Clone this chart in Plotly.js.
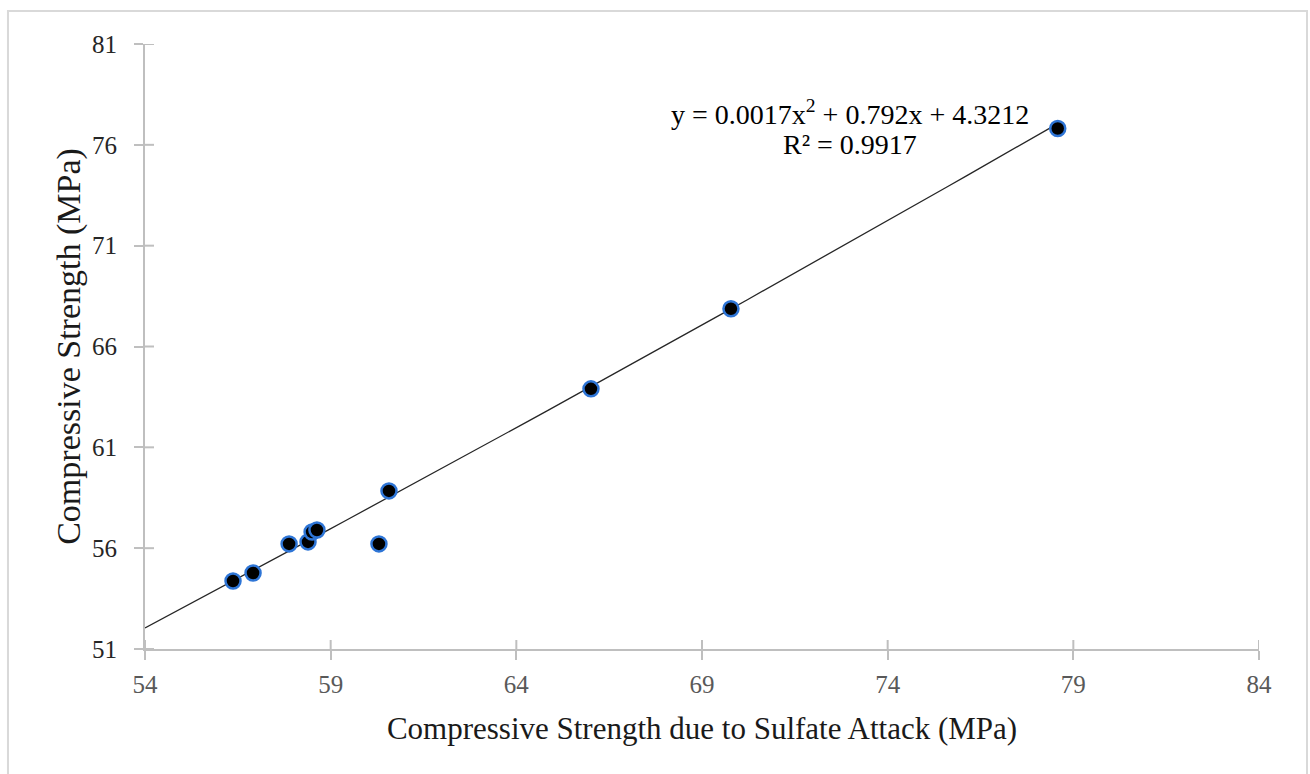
<!DOCTYPE html>
<html>
<head>
<meta charset="utf-8">
<script src="https://cdn.plot.ly/plotly-3.0.1.min.js"></script>
<style>html,body{margin:0;padding:0;background:#fff;}#chart{width:1310px;height:774px;}</style>
</head>
<body>
<div id="chart"></div>
<script>
// Data
const sulfateStrength = [56.37, 56.91, 57.88, 58.39, 58.50, 58.63, 60.30, 60.57, 66.01, 69.78, 78.58];
const compressiveStrength = [54.37, 54.77, 56.21, 56.31, 56.80, 56.90, 56.21, 58.84, 63.90, 67.87, 76.81];
// Polynomial trendline coefficients shown on the chart: y = a x^2 + b x + c
const trendCoeffs = [0.0017, 0.792, 4.3212];
const trendRange = [54, 78.58];
const xTicks = [54, 59, 64, 69, 74, 79, 84];
const yTicks = [51, 56, 61, 66, 71, 76, 81];
const equationText = 'y = 0.0017x<sup>2</sup> + 0.792x + 4.3212';
const r2Text = 'R² = 0.9917';

const trendX = [];
const trendY = [];
const nSteps = 50;
for (let i = 0; i <= nSteps; i++) {
  const x = trendRange[0] + (trendRange[1] - trendRange[0]) * i / nSteps;
  trendX.push(x);
  trendY.push(trendCoeffs[0] * x * x + trendCoeffs[1] * x + trendCoeffs[2]);
}

const serif = 'Liberation Serif, Times New Roman, serif';
const axisGray = '#bfbfbf';

const traces = [
  {
    x: trendX, y: trendY, type: 'scatter', mode: 'lines',
    line: {color: '#262626', width: 1.3}, hoverinfo: 'skip', showlegend: false
  },
  {
    x: sulfateStrength, y: compressiveStrength, type: 'scatter', mode: 'markers',
    marker: {size: 15, color: '#000000', line: {color: '#2e75d6', width: 2.5}},
    showlegend: false
  }
];

const axisCommon = {
  showgrid: false, zeroline: false, showline: true,
  linecolor: axisGray, linewidth: 2,
  ticks: 'outside', ticklen: 9, tickwidth: 2, tickcolor: axisGray
};

// inner halves of the crossing tick marks
const tickShapes = [];
xTicks.forEach(function (t) {
  tickShapes.push({type: 'line', xref: 'x', yref: 'y', ysizemode: 'pixel', yanchor: yTicks[0],
    x0: t, x1: t, y0: 0, y1: 9, line: {color: axisGray, width: 2}, layer: 'below'});
});
yTicks.forEach(function (t) {
  tickShapes.push({type: 'line', xref: 'x', yref: 'y', xsizemode: 'pixel', xanchor: xTicks[0],
    x0: 0, x1: 9, y0: t, y1: t, line: {color: axisGray, width: 2}, layer: 'below'});
});

const layout = {
  width: 1310, height: 774,
  margin: {l: 145, r: 51, t: 44, b: 125},
  paper_bgcolor: '#ffffff', plot_bgcolor: '#ffffff',
  font: {family: serif},
  xaxis: Object.assign({}, axisCommon, {
    range: [54, 84], tickvals: xTicks, ticktext: xTicks.map(String),
    tickfont: {family: serif, size: 25, color: '#595959'},
    ticklabelstandoff: 3,
    title: {text: 'Compressive Strength due to Sulfate Attack (MPa)', font: {family: serif, size: 31, color: '#1a1a1a'}, standoff: 20}
  }),
  yaxis: Object.assign({}, axisCommon, {
    range: [51, 81], tickvals: yTicks, ticktext: yTicks.map(String),
    tickfont: {family: serif, size: 25, color: '#262626'},
    ticklabelstandoff: 12,
    title: {text: 'Compressive Strength (MPa)', font: {family: serif, size: 34, color: '#1a1a1a'}, standoff: 1}
  }),
  annotations: [
    {xref: 'x', yref: 'y', x: 72.98, y: 77.6, text: equationText, showarrow: false,
     font: {family: serif, size: 28, color: '#000000'}, xanchor: 'center', yanchor: 'middle'},
    {xref: 'x', yref: 'y', x: 72.98, y: 76.0, text: r2Text, showarrow: false,
     font: {family: serif, size: 28, color: '#000000'}, xanchor: 'center', yanchor: 'middle'}
  ],
  shapes: [
    {type: 'rect', xref: 'paper', yref: 'paper', x0: -0.123, x1: 1.0431, y0: -0.2165, y1: 1.0545,
     line: {color: '#d9d9d9', width: 2}, fillcolor: 'rgba(0,0,0,0)', layer: 'below'}
  ].concat(tickShapes)
};

Plotly.newPlot('chart', traces, layout, {displayModeBar: false, staticPlot: true});
</script>
</body>
</html>
